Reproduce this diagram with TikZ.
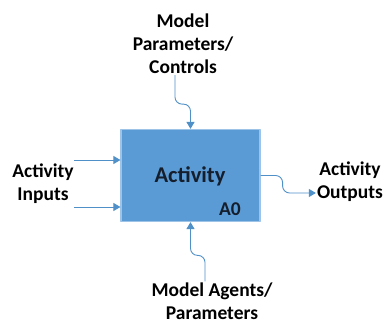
\documentclass[tikz,border=0pt]{standalone}
\usepackage{fontspec}
\setmainfont{Carlito}
\usetikzlibrary{arrows.meta}
\definecolor{boxblue}{HTML}{5B9BD5}
\definecolor{boxedge}{HTML}{9DC3E6}
\definecolor{flowblue}{HTML}{5090C8}
\definecolor{inktext}{HTML}{141E2C}
\begin{document}
\begin{tikzpicture}[x=1pt,y=-1pt,line join=round,>={Triangle[width=8pt,length=7pt]}]
        \tikzset{every node/.style={font=\bfseries\fontsize{19.5}{23}\selectfont,align=center,inner sep=1pt},
            flow/.style={->,draw=flowblue,line width=0.9pt,rounded corners=7pt}}
        \useasboundingbox (0,0) rectangle (384,324);
        \node[fill=boxblue,draw=boxedge,line width=1.2pt,minimum width=139pt,minimum height=92pt] (act) at (190.5,175.5) {};
        \node[font=\bfseries\fontsize{22.5}{26}\selectfont,text=inktext] (actlbl) at (190,176) {Activity};
        \node[text=inktext] (a0) at (230,209) {A0};
        \node (ctrl) at (183,44) {Model\\Parameters/\\Controls};
        \node (inp) at (43,184) {Activity\\Inputs};
        \node (outp) at (350,182) {Activity\\Outputs};
        \node (mech) at (212,301) {Model Agents/\\Parameters};
        \coordinate (in1) at (74,160);
        \coordinate (in2) at (74,207);
        \draw[flow] (in1) -- (in1 -| act.west);
        \draw[flow] (in2) -- (in2 -| act.west);
        \draw[flow] ([xshift=-8pt]ctrl.south) -- ++(0,29) -| (act.north);
        \draw[flow] ([xshift=-7pt]mech.north) -- ++(0,-26) -| (act.south);
        \draw[flow] (act.east) -- ++(22,0) |- ([yshift=-11pt]outp.west);
    \end{tikzpicture}
\end{document}
